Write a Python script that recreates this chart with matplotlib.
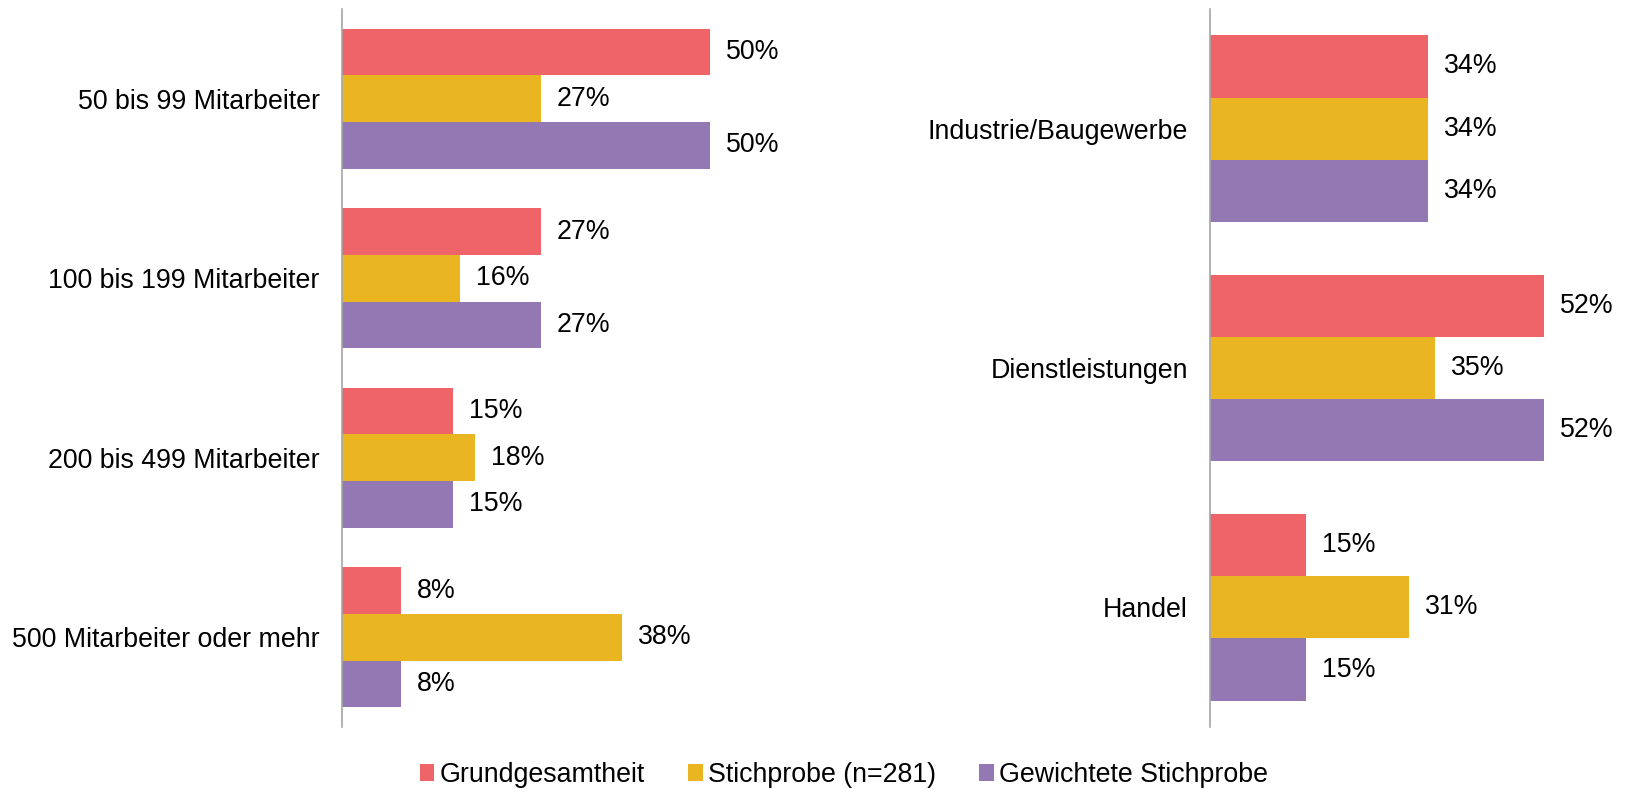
import matplotlib
matplotlib.use("Agg")
import matplotlib.pyplot as plt
from matplotlib.patches import Patch
import numpy as np

plt.rcParams['font.family'] = ['Liberation Sans', 'DejaVu Sans']

series_names = ["Grundgesamtheit", "Stichprobe (n=281)", "Gewichtete Stichprobe"]
colors = ["#EF6468", "#E9B520", "#9478B3"]

size_categories = ["50 bis 99 Mitarbeiter", "100 bis 199 Mitarbeiter",
                   "200 bis 499 Mitarbeiter", "500 Mitarbeiter oder mehr"]
size_grund = [50, 27, 15, 8]
size_stich = [27, 16, 18, 38]
size_gew = [50, 27, 15, 8]

branch_categories = ["Industrie/Baugewerbe", "Dienstleistungen", "Handel"]
branch_grund = [34, 52, 15]
branch_stich = [34, 35, 31]
branch_gew = [34, 52, 15]

FS = 19.3
fig = plt.figure(figsize=(16.26, 7.89), dpi=100)

def draw(ax, cats, vals_list, xmax):
    n = len(cats)
    y = np.arange(n)
    h = 0.26
    for i, (vals, c) in enumerate(zip(vals_list, colors)):
        pos = y + (i - 1) * h
        ax.barh(pos, vals, height=h, color=c, edgecolor='none')
        for p, v in zip(pos, vals):
            ax.annotate(f"{v}%", (v, p), xytext=(16, 0), textcoords='offset pixels',
                        va='center', ha='left', fontsize=FS, color='black')
    ax.set_ylim(n - 0.5, -0.5)
    ax.set_xlim(0, xmax)
    ax.set_yticks(y)
    ax.set_yticklabels(cats, fontsize=FS)
    ax.tick_params(axis='y', length=0, pad=16)
    ax.set_xticks([])
    for s in ['top', 'right', 'bottom']:
        ax.spines[s].set_visible(False)
    ax.spines['left'].set_color('#A6A6A6')
    ax.spines['left'].set_linewidth(1.2)

bottom = 1 - 727 / 789
top = 1 - 9 / 789
ax1 = fig.add_axes([342 / 1626, bottom, 442 / 1626, top - bottom])
draw(ax1, size_categories, [size_grund, size_stich, size_gew], 60)
ax2 = fig.add_axes([1210 / 1626, bottom, 385 / 1626, top - bottom])
draw(ax2, branch_categories, [branch_grund, branch_stich, branch_gew], 60)

handles = [Patch(facecolor=c, edgecolor='none') for c in colors]
fig.legend(handles, series_names, loc='center', bbox_to_anchor=(0.519, 1 - 775 / 789),
           ncol=3, frameon=False, fontsize=FS, handlelength=0.55, handleheight=0.55,
           handletextpad=0.2, columnspacing=1.6)

fig.savefig("out.png", dpi=100)
